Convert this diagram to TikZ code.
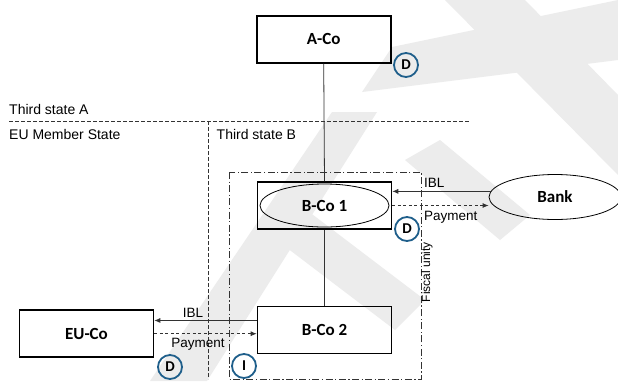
\documentclass[tikz,border=0pt]{standalone}
\usepackage{fontspec}
\setmainfont{Liberation Sans}
\newfontfamily\carlito{Carlito}
\usetikzlibrary{arrows.meta,shapes.geometric}
\definecolor{circblue}{RGB}{31,95,139}
\definecolor{wm}{RGB}{236,236,236}
\definecolor{linegray}{RGB}{50,50,50}
\tikzset{
  cobox/.style={draw=black, line width=1.6pt, minimum width=134pt, minimum height=47pt, inner sep=0pt, font=\carlito\bfseries\fontsize{17}{20}\selectfont},
  oval/.style={draw=black, line width=0.8pt, ellipse, inner sep=0pt, font=\carlito\bfseries\fontsize{17}{20}\selectfont},
  badge/.style={draw=circblue, line width=1.8pt, circle, minimum size=24pt, inner sep=0pt, font=\carlito\bfseries\fontsize{15}{18}\selectfont},
  lbl/.style={font=\fontsize{14}{16}\selectfont, inner sep=0pt},
  small/.style={font=\fontsize{13.5}{16}\selectfont, inner sep=0pt},
  conn/.style={draw=linegray, line width=0.8pt},
  arr/.style={-{Latex[length=6pt,width=5pt]}},
  dsh/.style={dash pattern=on 3pt off 2.5pt},
  border/.style={draw=black!80, dash pattern=on 3.5pt off 2.5pt, line width=0.8pt},
  dashdot/.style={draw=black!80, dash pattern=on 7pt off 2.5pt on 1.2pt off 2.5pt, line width=0.8pt}
}
\begin{document}
\begin{tikzpicture}[x=1pt,y=-1pt]
\useasboundingbox (0,0) rectangle (618,381);
\fill[white] (0,0) rectangle (618,381);
% watermark
\fill[wm] (445,0) -- (525,0) -- (618,95) -- (618,175) -- cycle;
\fill[wm] (362,92) -- (392,47) -- (618,0) -- (618,60) -- cycle;
\fill[wm] (332,112) -- (377,112) -- (207,381) -- (150,381) -- cycle;
\fill[wm] (405,160) -- (440,140) -- (530,215) -- (500,240) -- cycle;
\fill[wm] (270,235) -- (300,205) -- (425,300) -- (395,330) -- cycle;
% region borders
\coordinate (hl) at (9,121);
\coordinate (hr) at (470,121);
\coordinate (vt) at (208,121);
\coordinate (vb) at (208,379);
\draw[border] (hl) -- (hr);
\draw[border] (vt) -- (vb);
\node[lbl, anchor=west] (tsa) at (9,109) {Third state A};
\node[lbl, anchor=west] (eums) at (9,134) {EU Member State};
\node[lbl, anchor=west] (tsb) at (216.5,134) {Third state B};
% fiscal unity
\coordinate (fu1) at (229,172);
\coordinate (fu2) at (421,379);
\draw[dashdot] (fu1) rectangle (fu2);
\node[font=\fontsize{12}{14}\selectfont, inner sep=0pt, rotate=90] (fu) at (427,272) {Fiscal unity};
% companies
\node[cobox] (A) at (323.7,39.2) {A-Co};
\node[cobox] (B1) at (324.5,205.5) {};
\node[oval, minimum width=129pt, minimum height=43pt] (B1e) at (324.5,205.5) {B-Co 1};
\node[cobox] (B2) at (324.5,330) {B-Co 2};
\node[cobox] (EU) at (86.5,333.7) {EU-Co};
\node[oval, minimum width=132pt, minimum height=45pt] (Bank) at (555,197) {Bank};
% vertical links
\draw[conn] (A.south) -- (B1.north);
\draw[conn] (B1.south) -- (B2.north);
% bank flows
\draw[conn, arr] (Bank.175) -- (Bank.175 -| B1.east);
\draw[conn, arr, dsh] (B1.east) -- (B1.east -| Bank.west);
\node[small, anchor=west] (ibl1) at (424,183) {IBL};
\node[small, anchor=west] (pay1) at (424,217) {Payment};
% EU flows
\draw[conn, arr] (B2.172) -- (B2.172 -| EU.east);
\draw[conn, arr, dsh] (EU.east) -- (EU.east -| B2.west);
\node[small] (ibl2) at (193,313) {IBL};
\node[small] (pay2) at (198,344) {Payment};
% badges
\node[badge] (d1) at (406,65) {D};
\node[badge] (d2) at (407,229) {D};
\node[badge] (d3) at (170,367) {D};
\node[badge] (i1) at (244,366) {I};
\end{tikzpicture}
\end{document}
